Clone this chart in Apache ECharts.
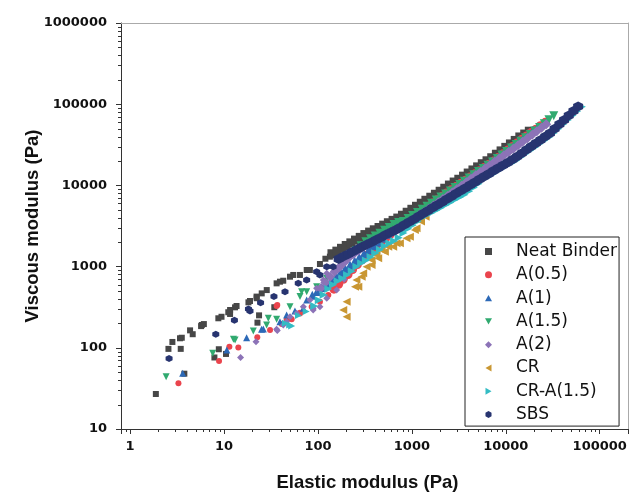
<!DOCTYPE html>
<html><head><meta charset="utf-8">
<script src="https://cdn.jsdelivr.net/npm/echarts@6/dist/echarts.min.js"></script>
<style>html,body{margin:0;padding:0;background:#fff}#c{width:638px;height:494px}</style>
</head><body><div id="c"></div>
<script>
const seriesNames = ['Neat Binder','A(0.5)','A(1)','A(1.5)','A(2)','CR','CR-A(1.5)','SBS'];
const xTickLabels = [1,10,100,1000,10000,100000];
const yTickLabels = [10,100,1000,10000,100000,1000000];
const minorXTicks = [0.9,2,3,4,5,6,7,8,9,20,30,40,50,60,70,80,90,200,300,400,500,600,700,800,900,
  2000,3000,4000,5000,6000,7000,8000,9000,20000,30000,40000,50000,60000,70000,80000,90000];
const minorYTicks = [20,30,40,50,60,70,80,90,200,300,400,500,600,700,800,900,2000,3000,4000,5000,6000,7000,8000,9000,
  20000,30000,40000,50000,60000,70000,80000,90000,200000,300000,400000,500000,600000,700000,800000,900000];

// Neat Binder
const neatBinderLow = [[1.88,27],[2.56,97],[2.82,118],[3.4,131],[3.46,97],[3.55,133],[3.78,48],[4.35,164],[4.64,147],[5.7,185],[5.8,191],[6.1,196],[7.9,76],[8.7,231],[8.8,96],[9.4,241],[10.5,84],[11.1,274],[11.6,261],[11.6,292],[13.1,315],[13.6,327],[18.2,363],[18.9,377],[22.2,427],[22.3,408],[22.7,204],[23.6,251],[25.2,468],[28.5,514],[34.3,316],[36.3,622],[39.4,652],[42.7,670],[50.4,751],[54.6,789],[64.3,789],[75.9,908],[82,908],[105,1077],[120,1250],[134,1325],[164,1390]];
const neatBinderBand = [[141,1440],[159,1550],[178,1680],[200,1820],[224,1960],[251,2120],[282,2290],[316,2480],[355,2660],[398,2840],[447,3030],[501,3240],[562,3470],[631,3710],[708,3960],[794,4290],[891,4670],[1000,5080],[1120,5530],[1260,6030],[1410,6560],[1590,7150],[1780,7780],[2000,8470],[2240,9230],[2510,10100],[2820,11000],[3160,11900],[3550,13000],[3980,14200],[4470,15500],[5010,16900],[5620,18500],[6310,20100],[7080,21900],[7940,24200],[8910,26600],[10000,29400],[11200,32400],[12600,35800],[14100,39500],[15900,42900],[17800,46500]];
// A(0.5)
const a05Low = [[3.27,36.5],[8.85,69],[11.4,103],[14.2,101],[22.6,135],[30.9,166],[36.3,327],[36.9,336],[41.1,196],[46.4,220],[52.5,224],[64.4,265],[64.4,270],[85.7,321],[105,369],[129,447]];
const a05Band = [[148,527],[166,605],[186,697],[209,800],[234,918],[263,1060],[295,1210],[331,1380],[372,1560],[417,1750],[468,1970],[525,2220],[589,2500],[661,2810],[741,3160],[832,3480],[933,3810],[1050,4190],[1180,4590],[1320,5050],[1480,5530],[1660,6080],[1860,6670],[2090,7330],[2340,8050],[2630,8830],[2950,9660],[3310,10600],[3720,11600],[4170,12700],[4680,13900],[5250,15200],[5890,16600],[6610,18200],[7410,20000],[8320,22100],[9330,24500],[10500,27200],[11800,30100],[13200,33300],[14800,36900],[16600,40600],[18600,44800],[20900,49300],[23400,54300],[26300,59800]];
// A(1)
const a1Low = [[3.63,48.5],[10.7,94],[17.4,133],[25.1,169],[26.2,170],[39.4,209],[46.4,253],[56.9,283],[69.8,306],[75.9,388]];
const a1Band = [[87.1,444],[97.7,495],[110,553],[123,617],[138,687],[155,764],[174,849],[195,946],[219,1050],[246,1170],[275,1300],[309,1450],[347,1610],[389,1800],[437,2000],[490,2240],[550,2500],[617,2780],[692,3110],[776,3440],[871,3760],[977,4120],[1100,4520],[1230,4940],[1380,5420],[1550,5930],[1740,6500],[1950,7130],[2190,7800],[2460,8550],[2750,9380],[3090,10300],[3470,11300],[3890,12400],[4370,13600],[4900,15000],[5500,16400],[6170,18000],[6920,19800],[7760,21700],[8710,24000],[9770,26500],[11000,29200],[12300,32200],[13800,35600],[15500,39300],[17400,43300],[19500,47800],[21900,52700]];
// A(1.5)
const a15Low = [[2.42,44],[7.59,85.5],[12.6,127],[13.1,125],[20.5,161],[28.4,191],[29.6,231],[36.3,224],[50.4,321],[64.4,427],[67,491],[75.9,491],[96.8,565],[124,718],[158,908]];
const a15Band = [[182,1070],[204,1220],[229,1380],[257,1580],[288,1800],[324,2030],[363,2200],[407,2380],[457,2580],[513,2800],[575,3040],[646,3300],[724,3500],[813,3600],[912,3920],[1020,4260],[1150,4650],[1290,5080],[1450,5540],[1620,6040],[1820,6590],[2040,7190],[2290,7850],[2570,8560],[2880,9400],[3240,10250],[3630,11250],[4070,12300],[4570,13500],[5130,14800],[5750,16200],[6460,17700],[7240,19400],[8130,21400],[9120,23700],[10200,26100],[11500,28800],[12900,31800],[14500,35000],[16200,38500],[18200,42300],[20400,46700],[22900,51800],[25700,57500],[28800,64500],[32400,72100]];
// A(2)
const a2Low = [[15,76],[21.9,119],[36.3,169],[36.9,163],[42.8,191],[46.4,209],[50.4,242],[59.3,266],[69.8,321],[82.2,388],[89,292],[89,306],[96.8,541],[105,321],[114,684],[124,408],[124,826],[158,515],[190,700]];
const a2Band = [[107,542],[120,637],[135,748],[151,869],[170,991],[191,1130],[214,1290],[240,1430],[269,1570],[302,1730],[339,1890],[380,2020],[427,2150],[479,2300],[537,2460],[603,2620],[676,2790],[759,2990],[851,3280],[955,3590],[1070,3940],[1200,4310],[1350,4720],[1510,5160],[1700,5650],[1910,6190],[2140,6780],[2400,7430],[2690,8170],[3020,9000],[3390,9910],[3800,10900],[4270,12100],[4790,13300],[5370,14600],[6030,16100],[6760,17700],[7590,19500],[8510,21400],[9550,23500],[10700,25800],[12000,28300],[13500,31200],[15100,34400],[17000,38000],[19100,42000],[21400,46300],[24000,51300],[26900,56600]];
// CR
const crLow = [[186,292],[202,242],[202,369],[248,565],[257,684],[269,565],[292,752],[303,826],[330,998],[372,1047],[372,1205],[421,1390],[438,1265],[476,1600],[516,1524],[560,1758],[632,1758],[687,1936],[745,1936],[877,2233],[952,2335],[1077,2823],[1122,2965],[1250,3600],[1400,4100]];
const crBand = [];
// CR-A(1.5)
const crA15Low = [[45,200],[50,191],[52.5,185],[62,250],[75,280]];
const crA15Band = [[91.2,327],[102,384],[115,451],[129,531],[145,598],[162,658],[182,713],[204,787],[229,875],[257,998],[288,1100],[324,1190],[363,1310],[407,1460],[457,1610],[513,1790],[575,1940],[646,2070],[724,2270],[813,2590],[912,2920],[1020,3240],[1150,3600],[1290,3990],[1450,4310],[1620,4620],[1820,4960],[2040,5320],[2290,5720],[2570,6150],[2880,6640],[3240,7150],[3630,7690],[4070,8450],[4570,9440],[5130,10500],[5750,11800],[6460,12700],[7240,13700],[8130,14900],[9120,16100],[10200,17400],[11500,18800],[12900,20300],[14500,22300],[16200,24500],[18200,26900],[20400,29600],[22900,32500],[25700,35700],[28800,39200],[32400,44300],[36300,50000],[40700,56600],[45700,64100],[51300,72600],[57500,82000],[64600,92900]];
// SBS
const sbsLow = [[2.6,74],[8.17,147],[12.9,218],[18.2,300],[18.9,284],[24.5,360],[34,427],[44.6,491],[61.7,622],[75.8,684],[96.8,865],[105,789],[124,998],[145,998]];
const sbsBand = [[166,1240],[186,1330],[209,1420],[234,1520],[263,1630],[295,1750],[331,1870],[372,2000],[417,2140],[468,2290],[525,2460],[589,2630],[661,2810],[741,3010],[832,3270],[933,3540],[1050,3840],[1180,4160],[1320,4510],[1480,4890],[1660,5300],[1860,5740],[2090,6220],[2340,6750],[2630,7310],[2950,7930],[3310,8590],[3720,9310],[4170,10100],[4680,10900],[5250,11900],[5890,12900],[6610,13900],[7410,15100],[8320,16400],[9330,17700],[10500,19200],[11800,20800],[13200,22700],[14800,24900],[16600,27400],[18600,30100],[20900,33000],[23400,36300],[26300,39900],[29500,43900],[33100,49800],[37200,56500],[41700,64000],[46800,72600],[52500,82400],[58900,93500]];

const X_MIN = 0.8, X_MAX = 200000, Y_MIN = 10, Y_MAX = 1000000;

const lowData = [neatBinderLow, a05Low, a1Low, a15Low, a2Low, crLow, crA15Low, sbsLow];
const bandData = [neatBinderBand, a05Band, a1Band, a15Band, a2Band, crBand, crA15Band, sbsBand];
const seriesColors = ['#474747','#ea444d','#2c69b7','#31aa70','#8c73b7','#c99733','#33bcc4','#273470'];
const seriesSymbols = ['path://M0,0L10,0L10,10L0,10Z','circle','path://M5,0L10,8.66L0,8.66Z','path://M0,0L10,0L5,8.66Z',
  'path://M5,0L10,5L5,10L0,5Z','path://M8.66,0L8.66,10L0,5Z','path://M0,0L8.66,5L0,10Z',
  'path://M5,0L9.33,2.5L9.33,7.5L5,10L0.67,7.5L0.67,2.5Z'];
const lowSizes = [6,6,7,7,7,8,7,7];
const bandSizes = [9,9,9,9,10,8,8,10];

function fmt(ticks) {
  return function (v) {
    const m = ticks.find(t => Math.abs(Math.log10(v) - Math.log10(t)) < 1e-6);
    return m ? String(m) : '';
  };
}
const labelFont = {fontFamily:'DejaVu Sans', fontWeight:'bold', fontSize:13, color:'#111'};
const nameFont = {fontFamily:'Liberation Sans', fontWeight:'bold', fontSize:18.5, color:'#111'};

const chart = echarts.init(document.getElementById('c'), null, {renderer:'canvas'});
const series = [];
seriesNames.forEach((n, i) => {
  series.push({
    type:'scatter', name:n, data:lowData[i], symbol:seriesSymbols[i], symbolSize:lowSizes[i],
    itemStyle:{color:seriesColors[i], opacity:1}, silent:true, emphasis:{disabled:true}, z:2 + i
  });
  series.push({
    type:'scatter', name:n, data:bandData[i], symbol:seriesSymbols[i], symbolSize:bandSizes[i],
    itemStyle:{color:seriesColors[i], opacity:1}, silent:true, emphasis:{disabled:true}, z:2 + i
  });
});
series.push({
  type:'custom', silent:true, clip:false, z:1,
  data: minorXTicks.map(v => [v, Y_MIN]),
  renderItem: function (params, api) {
    const p = api.coord([api.value(0), api.value(1)]);
    const x = Math.round(p[0]) + 0.5;
    return {type:'line', shape:{x1:x, y1:p[1], x2:x, y2:p[1] + 3}, style:{stroke:'#333', lineWidth:1}};
  }
});
series.push({
  type:'custom', silent:true, clip:false, z:1,
  data: minorYTicks.map(v => [X_MIN, v]),
  renderItem: function (params, api) {
    const p = api.coord([api.value(0), api.value(1)]);
    const y = Math.round(p[1]) + 0.5;
    return {type:'line', shape:{x1:p[0] - 3, y1:y, x2:p[0], y2:y}, style:{stroke:'#333', lineWidth:1}};
  }
});

chart.setOption({
  animation:false,
  backgroundColor:'#fff',
  grid:{left:121, right:10, top:23, bottom:65, outerBoundsMode:'none', containLabel:false},
  legend:{
    orient:'vertical', left:465, top:237, padding:[6,2,3,20],
    itemWidth:7, itemHeight:7, itemGap:6.3, symbolKeepAspect:true,
    borderColor:'#222', borderWidth:1, backgroundColor:'#fff',
    textStyle:{fontFamily:'DejaVu Sans', fontSize:17, color:'#111', lineHeight:17, padding:[0,0,0,19]},
    data:seriesNames, selectedMode:false
  },
  xAxis:[
    {type:'log', logBase:10, min:X_MIN, max:X_MAX, position:'bottom',
     axisLine:{lineStyle:{color:'#333'}}, axisTick:{length:5, lineStyle:{color:'#333'}},
     axisLabel:Object.assign({margin:11, formatter:fmt(xTickLabels), showMinLabel:true, showMaxLabel:true}, labelFont),
     splitLine:{show:false}, minorTick:{show:false},
     name:'Elastic modulus (Pa)', nameLocation:'middle', nameGap:44, nameMoveOverlap:false,
     nameTextStyle:Object.assign({padding:[0,14,0,0]}, nameFont)},
    {type:'log', logBase:10, min:X_MIN, max:X_MAX, position:'top',
     axisLine:{lineStyle:{color:'#aaa'}}, axisTick:{show:false}, axisLabel:{show:false}, splitLine:{show:false}}
  ],
  yAxis:[
    {type:'log', logBase:10, min:Y_MIN, max:Y_MAX, position:'left',
     axisLine:{lineStyle:{color:'#333'}}, axisTick:{length:5, lineStyle:{color:'#333'}},
     axisLabel:Object.assign({margin:14, formatter:fmt(yTickLabels)}, labelFont),
     splitLine:{show:false},
     name:'Viscous modulus (Pa)', nameLocation:'middle', nameGap:79, nameMoveOverlap:false,
     nameTextStyle:nameFont},
    {type:'log', logBase:10, min:Y_MIN, max:Y_MAX, position:'right',
     axisLine:{lineStyle:{color:'#aaa'}}, axisTick:{show:false}, axisLabel:{show:false}, splitLine:{show:false}}
  ],
  series:series
});
</script></body></html>
